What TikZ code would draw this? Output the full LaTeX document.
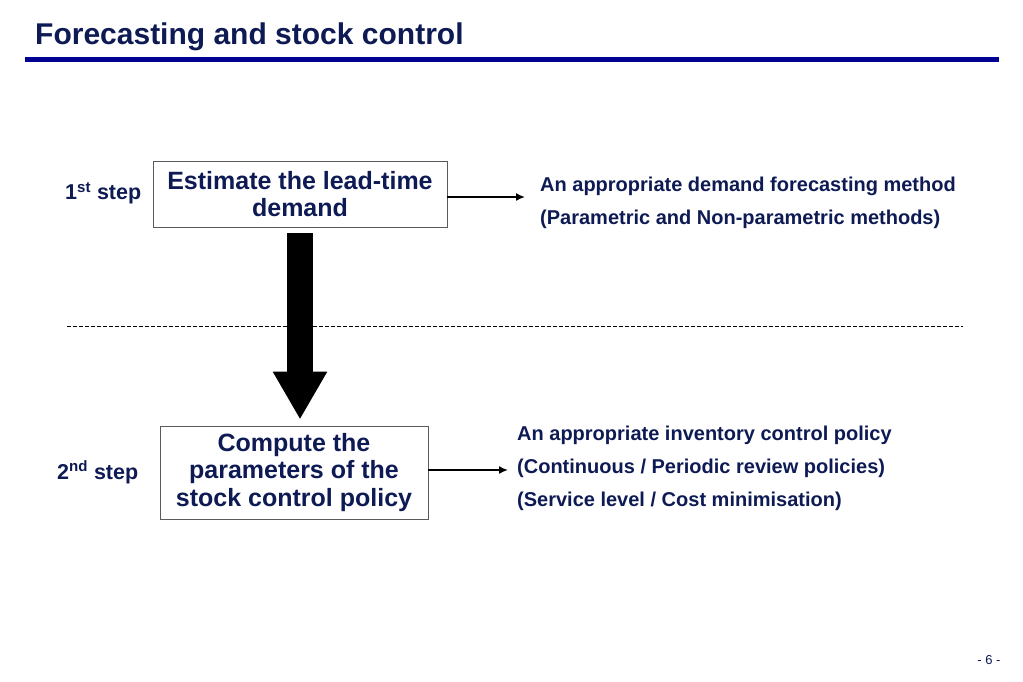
\documentclass[tikz,border=0pt]{standalone}
\usepackage{fontspec}
\setmainfont{Liberation Sans}
\usetikzlibrary{arrows.meta,calc}
\definecolor{navytext}{RGB}{14,26,84}
\definecolor{titleline}{RGB}{0,0,145}
\definecolor{boxgray}{RGB}{90,90,90}
\begin{document}
\begin{tikzpicture}[x=1pt,y=-1pt,
  boxtext/.style={draw=boxgray,line width=0.9pt,text=navytext,align=center,
    font=\bfseries\fontsize{25}{27.5}\selectfont,inner sep=0pt},
  steplabel/.style={text=navytext,font=\bfseries\fontsize{21.5}{24}\selectfont,inner sep=0pt,anchor=base west},
  sidetext/.style={text=navytext,anchor=base west,
    font=\bfseries\fontsize{20}{24}\selectfont,inner sep=0pt},
  smallarrow/.style={line width=1.6pt,-{Latex[length=9pt,width=8pt]}},
  bigarrow/.style={line width=26pt,-{Triangle[width=51pt,length=48pt]}},
]
\useasboundingbox (0,0) rectangle (1023,682);
% title
\node[anchor=base west,inner sep=0pt,text=navytext,font=\bfseries\fontsize{30}{32}\selectfont] (title) at (35,45)
  {Forecasting and stock control};
\coordinate (tl1) at (25,59.5);
\coordinate (tl2) at (999,59.5);
\draw[titleline,line width=5pt] (tl1) -- (tl2);
% boxes
\node[boxtext,minimum width=294pt,minimum height=66pt] (box1) at (300,194)
  {Estimate the lead-time\\demand};
\node[boxtext,minimum width=268pt,minimum height=93pt] (box2) at (294,472.5)
  {Compute the\\parameters of the\\stock control policy};
% step labels
\node[steplabel] (s1) at (65,200) {1\textsuperscript{st} step};
\node[steplabel] (s2) at (57,479) {2\textsuperscript{nd} step};
% dashed separator
\coordinate (d1) at (67,326);
\coordinate (d2) at (963,326);
\draw[dashed,line width=0.7pt,dash pattern=on 3.5pt off 2.5pt] (d1) -- (d2);
% big arrow
\draw[bigarrow] ([yshift=-6pt]box1.south) -- ([yshift=6pt]box1.south |- box2.north);
% side texts
\node[sidetext] (r1a) at (540,191) {An appropriate demand forecasting method};
\node[sidetext] (r1b) at (540,224) {(Parametric and Non-parametric methods)};
\node[sidetext] (r2a) at (517,440) {An appropriate inventory control policy};
\node[sidetext] (r2b) at (517,473) {(Continuous / Periodic review policies)};
\node[sidetext] (r2c) at (517,506) {(Service level / Cost minimisation)};
% small arrows
\coordinate (e1) at (525,197);
\coordinate (e2) at (508,470);
\draw[smallarrow] (box1.east |- e1) -- (e1);
\draw[smallarrow] (box2.east |- e2) -- (e2);
% page number
\node[text=navytext,font=\fontsize{13}{15}\selectfont,inner sep=0pt] (pg) at (989,660) {- 6 -};
\end{tikzpicture}
\end{document}
